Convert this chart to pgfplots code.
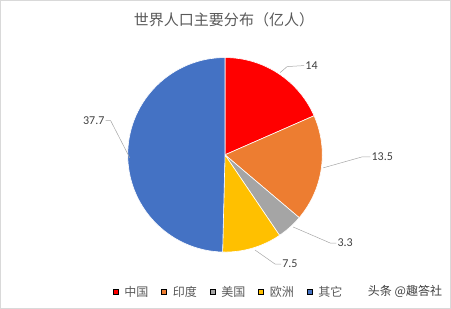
\documentclass[border=0pt]{standalone}
\usepackage{pgfplots}
\usepackage{pgfplotstable}
\pgfplotsset{compat=1.18}
\usepackage{fontspec}
\setmainfont{Noto Sans CJK SC}
\newfontfamily\numfont{Carlito}
\definecolor{cnred}{HTML}{FF0000}
\definecolor{inorange}{HTML}{ED7D31}
\definecolor{usgray}{HTML}{A5A5A5}
\definecolor{euyellow}{HTML}{FFC000}
\definecolor{otblue}{HTML}{4472C4}
\definecolor{txtgray}{HTML}{595959}
\definecolor{lblgray}{HTML}{404040}
\definecolor{leadgray}{HTML}{A6A6A6}
\pgfplotstableread{
value color
14 cnred
13.5 inorange
3.3 usgray
7.5 euyellow
37.7 otblue
}\piedata
\begin{document}
\begin{tikzpicture}
\begin{axis}[
  hide axis, clip=false,
  x=1bp, y=1bp, xmin=0, xmax=451, ymin=0, ymax=309,
  legend columns=5,
  legend style={draw=none, fill=none, at={(axis description cs:0.507,0.055)}, anchor=center,
    font=\fontsize{12bp}{14bp}\selectfont\color{txtgray},
    /tikz/every odd column/.append style={column sep=4bp},
    /tikz/every even column/.append style={column sep=11bp}},
  legend image code/.code={\fill[#1] (0bp,-2.5bp) rectangle (5bp,2.5bp);},
]
\addlegendimage{fill=cnred}\addlegendentry{中国}
\addlegendimage{fill=inorange}\addlegendentry{印度}
\addlegendimage{fill=usgray}\addlegendentry{美国}
\addlegendimage{fill=euyellow}\addlegendentry{欧洲}
\addlegendimage{fill=otblue}\addlegendentry{其它}
\draw[color=black!15, line width=0.8pt] (axis cs:1,1) rectangle (axis cs:450,308);
% pie
\pgfplotstablegetrowsof{\piedata}
\pgfmathtruncatemacro\nrows{\pgfplotsretval-1}
\gdef\total{0}
\pgfplotsforeachungrouped \i in {0,...,\nrows}{%
  \pgfplotstablegetelem{\i}{value}\of\piedata
  \pgfmathsetmacro\newtotal{\total+\pgfplotsretval}%
  \global\let\total\newtotal
}
\gdef\cumangle{90}
\pgfplotsforeachungrouped \i in {0,...,\nrows}{%
  \pgfplotstablegetelem{\i}{value}\of\piedata \let\v\pgfplotsretval
  \pgfplotstablegetelem{\i}{color}\of\piedata \let\c\pgfplotsretval
  \pgfmathsetmacro\endangle{\cumangle - \v/\total*360}%
  \edef\temp{\noexpand\filldraw[fill=\c, draw=white, line width=0.6pt] (axis cs:225,154) -- ++(\cumangle:97bp) arc[start angle=\cumangle, end angle=\endangle, radius=97bp] -- cycle;}%
  \temp
  \global\let\cumangle\endangle
}
% leader lines and labels
\draw[leadgray, line width=0.5pt] (axis cs:280,236) -- (axis cs:287,242) -- (axis cs:304,243);
\node[anchor=west, inner sep=1bp, font=\numfont\fontsize{12bp}{14bp}\selectfont, text=lblgray] at (axis cs:304,243) {14};
\draw[leadgray, line width=0.5pt] (axis cs:323,141) -- (axis cs:362,152) -- (axis cs:370,152);
\node[anchor=west, inner sep=1bp, font=\numfont\fontsize{12bp}{14bp}\selectfont, text=lblgray] at (axis cs:370,152) {13.5};
\draw[leadgray, line width=0.5pt] (axis cs:293,82) -- (axis cs:330,66) -- (axis cs:336,66);
\node[anchor=west, inner sep=1bp, font=\numfont\fontsize{12bp}{14bp}\selectfont, text=lblgray] at (axis cs:336,66) {3.3};
\draw[leadgray, line width=0.5pt] (axis cs:255,59) -- (axis cs:275,45) -- (axis cs:281,45);
\node[anchor=west, inner sep=1bp, font=\numfont\fontsize{12bp}{14bp}\selectfont, text=lblgray] at (axis cs:281,45) {7.5};
\draw[leadgray, line width=0.5pt] (axis cs:130,151) -- (axis cs:111,188) -- (axis cs:106,188);
\node[anchor=east, inner sep=1bp, font=\numfont\fontsize{12bp}{14bp}\selectfont, text=lblgray] at (axis cs:106,188) {37.7};
% title
\node[font=\fontsize{15bp}{17bp}\selectfont, text=txtgray] at (axis cs:224,289) {世界人口主要分布（亿人）};
% watermark
\node[anchor=west, font=\fontsize{12bp}{14bp}\selectfont, text=black!75] at (axis cs:364,18) {头条 @趣答社};
\end{axis}
\end{tikzpicture}
\end{document}
